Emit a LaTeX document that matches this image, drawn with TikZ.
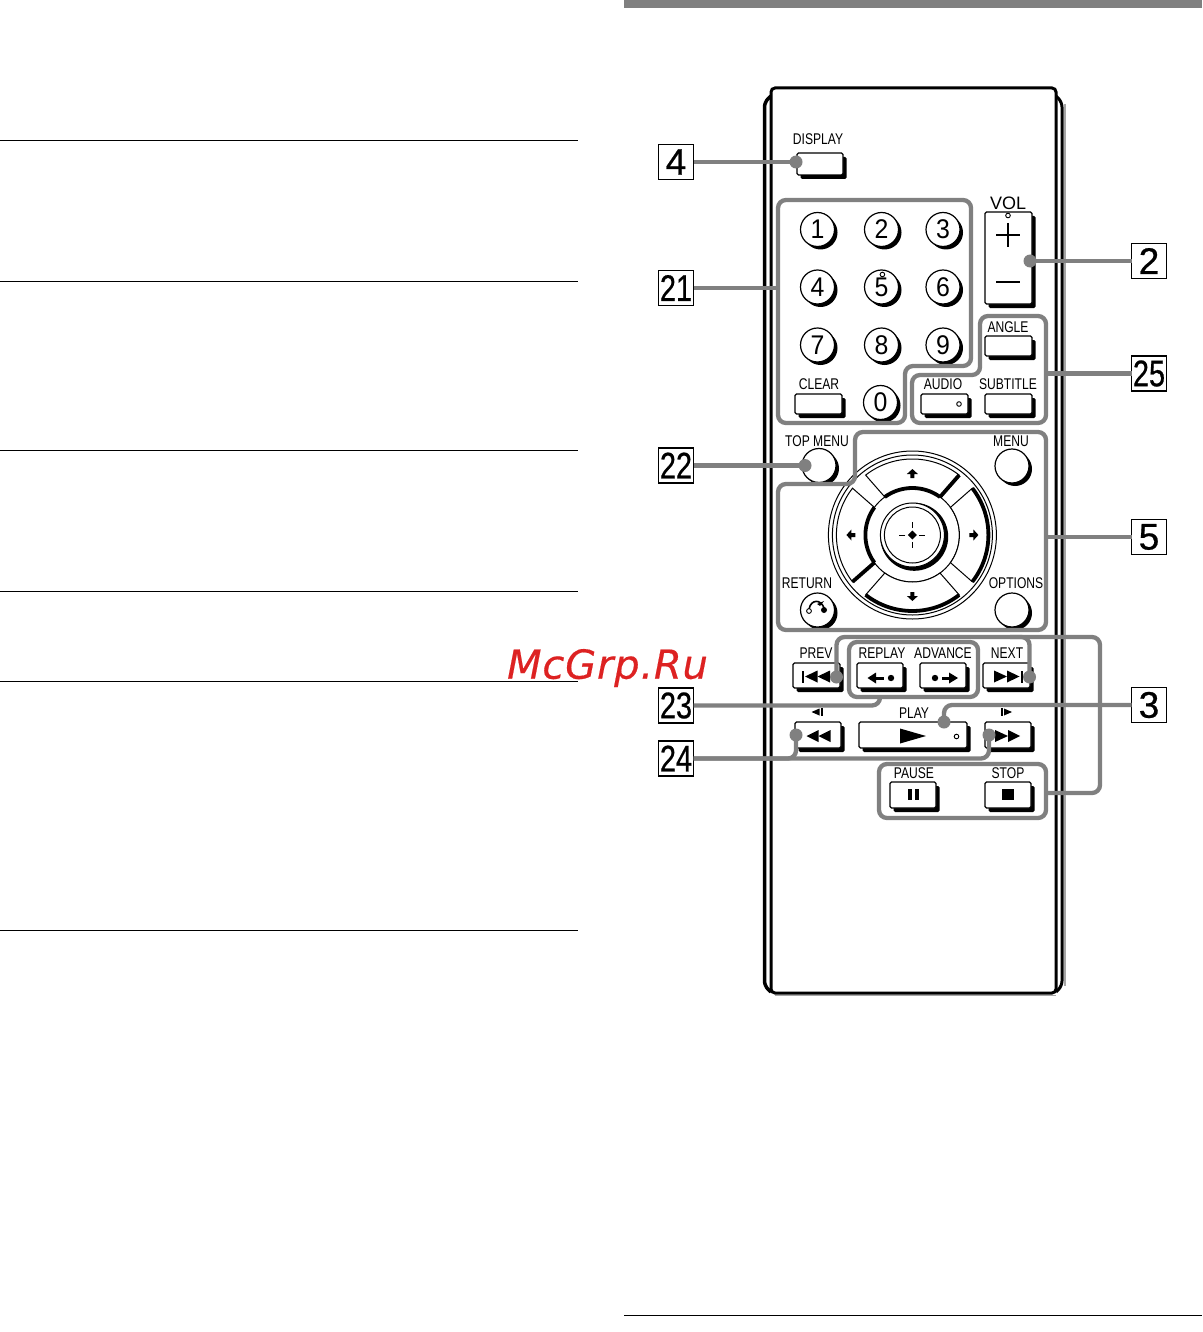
\documentclass[tikz,border=0pt]{standalone}
\usepackage{fontspec}
\setmainfont{Liberation Sans}
\newfontfamily\labf[FakeStretch=0.78]{Liberation Sans}
\newfontfamily\digf[FakeStretch=0.92]{Liberation Sans}
\newfontfamily\volf{Liberation Sans}
\newfontfamily\boxone[FakeBold=0.6]{Liberation Sans}
\newfontfamily\boxtwo[FakeStretch=0.78,FakeBold=0.6]{Liberation Sans}
\newfontfamily\wm[LetterSpace=2,FakeBold=0.4]{DejaVu Sans}
\definecolor{callout}{HTML}{808080}
\definecolor{wmred}{HTML}{DD2222}
\tikzset{
  btnface/.style={draw=black,line width=1.2pt,fill=white,rounded corners=1.5pt,inner sep=0pt,outer sep=0pt},
  btnshadow/.style={fill=black,rounded corners=1.5pt,inner sep=0pt,outer sep=0pt},
  cface/.style={circle,draw=black,line width=1.2pt,fill=white,inner sep=0pt,outer sep=0pt},
  cshadow/.style={circle,fill=black,inner sep=0pt,outer sep=0pt},
  txt/.style={inner sep=0pt,font=\labf\fontsize{15.5}{15.5}\selectfont},
  labelbox/.style={draw=black,line width=1.5pt,fill=white,minimum width=35pt,minimum height=35pt,inner sep=0pt,outer sep=0pt},
  conn/.style={draw=callout,line width=4.3pt},
  frameline/.style={draw=callout,line width=4.3pt,rounded corners=8pt},
  cdot/.style={circle,fill=callout,minimum size=13pt,inner sep=0pt,outer sep=0pt},
  rule/.style={draw=black,line width=1pt},
  tinyring/.style={draw=black,line width=0.9pt,fill=white},
}
\newcommand\rbtn[5]{%
  \pgfmathsetmacro\bw{#4-#2}\pgfmathsetmacro\bh{#5-#3}%
  \pgfmathsetmacro\bx{(#2+#4)/2}\pgfmathsetmacro\by{(#3+#5)/2}%
  \node[btnshadow,minimum width=\bw pt,minimum height=\bh pt] (#1s) at (\bx+3.5,\by+4) {};
  \node[btnface,minimum width=\bw pt,minimum height=\bh pt] (#1) at (\bx,\by) {};
}
\newcommand\cbtn[5]{%
  \pgfmathsetmacro\bd{2*#4}%
  \node[cshadow,minimum size=\bd pt] (#1s) at (#2+3,#3+3) {};
  \node[cface,minimum size=\bd pt,font=\digf\fontsize{27}{27}\selectfont] (#1) at (#2,#3) {#5};
}
\newcommand\tl[4]{\fill[black] (#1,#2)--(#1+#3,#2-#4)--(#1+#3,#2+#4)--cycle;}
\begin{document}
\begin{tikzpicture}[x=1pt,y=-1pt]
\useasboundingbox (0,0) rectangle (1202,1332);
% page rules
\foreach \yy in {141,281,450,591,681,930}{\draw[rule] (0,\yy)--(578,\yy);}
\draw[rule] (624,1315)--(1202,1315);
\fill[callout] (624,0) rectangle (1202,8);
% body
\draw[black,line width=3.5pt,rounded corners=5pt] (771,96)--(764.5,102)--(764.5,986)--(771,992);
\draw[black,line width=3pt,rounded corners=5pt] (1056,96)--(1062,102)--(1062,986)--(1056,992);
\draw[gray!70,line width=1.6pt] (1065,104)--(1065,986);
\draw[gray!70,line width=1.6pt] (775,995.5)--(1056,995.5);
\draw[black,line width=3pt,rounded corners=4pt,fill=white] (771,88) rectangle (1056,993);
% texts
\node[txt] (tDisplay) at (818,139) {DISPLAY};
\node[txt,font=\volf\fontsize{18}{18}\selectfont] (tVol) at (1008,203) {VOL};
\node[txt] (tAngle) at (1008,327) {ANGLE};
\node[txt] (tClear) at (819,384) {CLEAR};
\node[txt] (tAudio) at (943,384) {AUDIO};
\node[txt] (tSub) at (1008,384) {SUBTITLE};
\node[txt] (tTop) at (817,441) {TOP MENU};
\node[txt] (tMenu) at (1011,441) {MENU};
\node[txt] (tRet) at (807,583) {RETURN};
\node[txt] (tOpt) at (1016,583) {OPTIONS};
\node[txt] (tPrev) at (816,653) {PREV};
\node[txt] (tRep) at (882,653) {REPLAY};
\node[txt] (tAdv) at (943,653) {ADVANCE};
\node[txt] (tNext) at (1007,653) {NEXT};
\node[txt] (tPlay) at (914,713) {PLAY};
\node[txt] (tPause) at (914,773) {PAUSE};
\node[txt] (tStop) at (1008,773) {STOP};
% rectangular buttons
\rbtn{bDisplay}{797}{153}{843}{175}
\rbtn{bVol}{985}{212}{1032}{304}
\rbtn{bAngle}{985}{336}{1032}{356}
\rbtn{bClear}{795}{394}{842}{414}
\rbtn{bAudio}{921}{394}{968}{414}
\rbtn{bSub}{985}{394}{1032}{414}
\rbtn{bPrev}{793}{663}{840}{688}
\rbtn{bRep}{857}{663}{903}{688}
\rbtn{bAdv}{920}{663}{966}{688}
\rbtn{bNext}{983}{663}{1030}{688}
\rbtn{bRew}{795}{722}{841}{748}
\rbtn{bPlay}{859}{722}{967}{748}
\rbtn{bFf}{985}{722}{1031}{748}
\rbtn{bPause}{890}{782}{936}{808}
\rbtn{bStop}{985}{782}{1031}{808}
% round buttons
\cbtn{n1}{817.5}{229.5}{17}{1}
\cbtn{n2}{881.5}{229.5}{17}{2}
\cbtn{n3}{943}{229.5}{17}{3}
\cbtn{n4}{817.5}{287}{17}{4}
\cbtn{n5}{881.5}{287}{17}{5}
\cbtn{n6}{943}{287}{17}{6}
\cbtn{n7}{817.5}{345}{17}{7}
\cbtn{n8}{881.5}{345}{17}{8}
\cbtn{n9}{943}{345}{17}{9}
\cbtn{n0}{880.5}{402.5}{17}{0}
\cbtn{bTop}{819}{465.5}{17}{}
\cbtn{bMenu}{1012}{466}{17}{}
\cbtn{bRet}{817.5}{610}{17}{}
\cbtn{bOpt}{1012}{610}{17}{}
% marks on buttons
\draw[black,line width=2.8pt] (996,235)--(1020,235) (1008,223)--(1008,247);
\draw[black,line width=2.8pt] (996,282)--(1020,282);
\draw[tinyring] (1008,215.5) circle[radius=2.3pt];
\draw[tinyring] (882.4,274.5) circle[radius=2.3pt];
\draw[tinyring] (959,404) circle[radius=2.3pt];
\draw[tinyring] (956.5,736.5) circle[radius=2.3pt];
% return glyph
\draw[black,line width=1.6pt] (809,609) .. controls (811,599) and (821,599) .. (824,608);
\fill[black] (824,610) circle[radius=3pt];
\draw[black,line width=0.9pt,fill=white] (809,611) circle[radius=2.4pt];
\fill[black] (824,601) -- (817,604) -- (820,606) -- cycle;
% transport glyphs
\fill[black] (801.5,670.5) rectangle (803.5,682.5);
\tl{805}{676.5}{12.5}{6}\tl{817.5}{676.5}{12.5}{6}
\fill[black] (1020.5,670.5) rectangle (1022.5,682.5);
\tl{1007}{676.5}{-13}{6}\tl{1019.5}{676.5}{-12.5}{6}
\tl{867.5}{678}{8.5}{5.5}
\fill[black] (876,676.5) rectangle (884,679.5);
\fill[black] (891,678) circle[radius=3.2pt];
\fill[black] (935,678) circle[radius=3.2pt];
\fill[black] (942,676.5) rectangle (950,679.5);
\tl{958}{678}{-9}{5.5}
\tl{806.5}{736}{12}{6}\tl{818.5}{736}{12}{6}
\tl{1008}{736}{-13}{6}\tl{1020}{736}{-12}{6}
\tl{926}{736}{-26}{7.5}
\fill[black] (908,789) rectangle (912,800);
\fill[black] (915,789) rectangle (919,800);
\fill[black] (1002,789) rectangle (1013.5,800);
\tl{811.5}{712}{8}{3.5}\fill[black] (820.5,708) rectangle (822.5,716);
\fill[black] (1001,708) rectangle (1003,716);\tl{1012}{712}{-8}{3.5}
% d-pad
\begin{scope}[shift={(912.4,535)},x=1pt,y=1pt]
  \draw[black,line width=1pt,fill=white] (0,0) circle[radius=84pt];
  \draw[black,line width=1pt] (0,0) circle[radius=80pt];
  \draw[black,line width=1pt] (0,0) circle[radius=47pt];
  % up
  \draw[black,line width=1pt,fill=white] (128:76pt) arc[start angle=128,end angle=52,radius=76pt] -- (54:47pt) arc[start angle=54,end angle=126,radius=47pt] -- cycle;
  \draw[black,line width=3.8pt] (52:76pt)--(54:47pt);
  \draw[black,line width=3.8pt] (54:47pt) arc[start angle=54,end angle=126,radius=47pt];
  % left
  \draw[black,line width=1pt,fill=white] (142:76pt) arc[start angle=142,end angle=218,radius=76pt] -- (216:47pt) arc[start angle=216,end angle=144,radius=47pt] -- cycle;
  \draw[black,line width=3.8pt] (218:76pt)--(216:47pt);
  \draw[black,line width=3.8pt] (216:47pt) arc[start angle=216,end angle=144,radius=47pt];
  % right
  \draw[black,line width=1pt,fill=white] (38:76pt) arc[start angle=38,end angle=-38,radius=76pt] -- (-36:47pt) arc[start angle=-36,end angle=36,radius=47pt] -- cycle;
  \draw[black,line width=3.8pt] (38:76pt) arc[start angle=38,end angle=-38,radius=76pt];
  % down
  \draw[black,line width=1pt,fill=white] (232:76pt) arc[start angle=232,end angle=308,radius=76pt] -- (306:47pt) arc[start angle=306,end angle=234,radius=47pt] -- cycle;
  \draw[black,line width=3.8pt] (232:76pt) arc[start angle=232,end angle=308,radius=76pt];
  % centre
  \fill[black] (1.8,-1.8) circle[radius=34pt];
  \draw[black,line width=1pt,fill=white] (0,0) circle[radius=32pt];
  \draw[black,line width=1pt] (0,0) circle[radius=28pt];
  \fill[black] (0,4.5)--(4.5,0)--(0,-4.5)--(-4.5,0)--cycle;
  \draw[black,line width=1pt] (0,7)--(0,13) (0,-7)--(0,-13) (7,0)--(13,0) (-7,0)--(-13,0);
  % arrows
  \fill[black] (0,66)--(5.5,61)--(2,61)--(2,57)--(-2,57)--(-2,61)--(-5.5,61)--cycle;
  \fill[black] (0,-66)--(5.5,-61)--(2,-61)--(2,-57)--(-2,-57)--(-2,-61)--(-5.5,-61)--cycle;
  \fill[black] (-66,0)--(-61,5.5)--(-61,2)--(-57,2)--(-57,-2)--(-61,-2)--(-61,-5.5)--cycle;
  \fill[black] (66,0)--(61,5.5)--(61,2)--(57,2)--(57,-2)--(61,-2)--(61,-5.5)--cycle;
\end{scope}
% label boxes
\node[labelbox,font=\boxone\fontsize{37}{37}\selectfont] (L4) at (676,162) {4};
\node[labelbox,font=\boxtwo\fontsize{37}{37}\selectfont] (L21) at (676,288) {21};
\node[labelbox,font=\boxtwo\fontsize{37}{37}\selectfont] (L22) at (676,465.5) {22};
\node[labelbox,font=\boxtwo\fontsize{37}{37}\selectfont] (L23) at (676,705.5) {23};
\node[labelbox,font=\boxtwo\fontsize{37}{37}\selectfont] (L24) at (676,758.5) {24};
\node[labelbox,font=\boxone\fontsize{37}{37}\selectfont] (L2) at (1149,261) {2};
\node[labelbox,font=\boxtwo\fontsize{37}{37}\selectfont] (L25) at (1149,373.5) {25};
\node[labelbox,font=\boxone\fontsize{37}{37}\selectfont] (L5) at (1149,537) {5};
\node[labelbox,font=\boxone\fontsize{37}{37}\selectfont] (L3) at (1149,705) {3};
% frames
\coordinate (f21) at (778,288);
\coordinate (f25) at (1046,373.5);
\coordinate (f5) at (1046,537);
\coordinate (f3) at (1046,793);
\coordinate (f23) at (880,697);
\draw[frameline] (778,200)--(971,200)--(971,366)--(905,366)--(905,423)--(778,423)--cycle;
\draw[frameline] (980,316)--(1046,316)--(1046,423)--(912,423)--(912,375)--(980,375)--cycle;
\draw[frameline] (855,432)--(1046,432)--(1046,630)--(778,630)--(778,484)--(855,484)--cycle;
\draw[frameline] (849,642)--(978,642)--(978,697)--(849,697)--cycle;
\draw[frameline] (879,764)--(1046,764)--(1046,818)--(879,818)--cycle;
% dots
\node[cdot] (d4) at (796,162) {};
\node[cdot] (d2) at (1030,261) {};
\node[cdot] (d22) at (805,465.5) {};
\node[cdot] (dPrev) at (836.5,677) {};
\node[cdot] (dNext) at (1029.5,677) {};
\node[cdot] (dPlay) at (944,722) {};
\node[cdot] (dRew) at (796,735) {};
\node[cdot] (dFf) at (989,735) {};
% connectors
\draw[conn] (L4.east)--(d4.center);
\draw[conn] (L21.east)--(f21);
\draw[conn] (L22.east)--(d22.center);
\draw[conn] (L2.west)--(d2.center);
\draw[conn] (L25.west)--(f25);
\draw[conn] (L5.west)--(f5);
\draw[frameline] (L23.east)--(880,705.5)--(f23);
\draw[frameline] (L24.east)--(989,758.5)--(dFf.center);
\draw[frameline] (L24.east)--(796,758.5)--(dRew.center);
\draw[frameline] (L3.west)--(944,705)--(dPlay.center);
\draw[frameline] (f3)--(1100,793)--(1100,637)--(836.5,637)--(dPrev.center);
\draw[frameline] (1010,637)--(1029.5,637)--(dNext.center);
% watermark
\node[inner sep=0pt,text=wmred,font=\wm\itshape\fontsize{40}{40}\selectfont] (wm) at (607.5,668) {McGrp.Ru};
\end{tikzpicture}
\end{document}
